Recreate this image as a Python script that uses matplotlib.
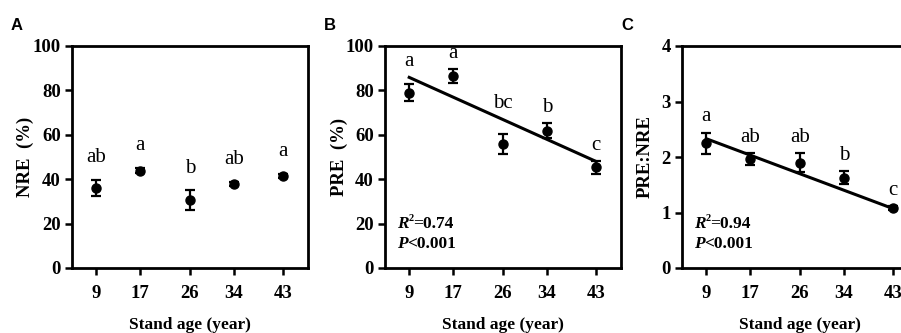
import matplotlib
matplotlib.use("Agg")
import matplotlib.pyplot as plt
import numpy as np

# ---- data ----
stand_age = [9, 17, 26, 34, 43]
age_ticks = ["9", "17", "26", "34", "43"]

nre_mean = [36.0, 43.9, 30.6, 37.9, 41.5]
nre_se = [3.6, 1.2, 4.4, 1.0, 1.0]
nre_letters = ["ab", "a", "b", "ab", "a"]

pre_mean = [79.0, 86.5, 55.9, 61.9, 45.3]
pre_se = [3.7, 3.2, 4.5, 3.5, 3.0]
pre_letters = ["a", "a", "bc", "b", "c"]
pre_fit = (-1.115, 95.9)      # slope, intercept
pre_stats = ("0.74", "0.001")

ratio_mean = [2.25, 1.96, 1.90, 1.63, 1.08]
ratio_se = [0.19, 0.11, 0.17, 0.12, 0.03]
ratio_letters = ["a", "ab", "ab", "b", "c"]
ratio_fit = (-0.0371, 2.664)
ratio_stats = ("0.94", "0.001")

serif = "Liberation Serif"
sans = "Liberation Sans"

fig = plt.figure(figsize=(9.01, 3.33), dpi=100)

W, H = 236 / 901, 222 / 333
bottom = 1 - 268 / 333
lefts = [72 / 901, 385 / 901, 682 / 901]

panels = [
    dict(mean=nre_mean, se=nre_se, letters=nre_letters, ylim=(0, 100), yt=[0, 20, 40, 60, 80, 100],
         ylabel="NRE  (%)", fit=None, stats=None, off=8.0, tag="A", labx=-0.197),
    dict(mean=pre_mean, se=pre_se, letters=pre_letters, ylim=(0, 100), yt=[0, 20, 40, 60, 80, 100],
         ylabel="PRE  (%)", fit=pre_fit, stats=pre_stats, off=5.0, tag="B", labx=-0.195),
    dict(mean=ratio_mean, se=ratio_se, letters=ratio_letters, ylim=(0, 4), yt=[0, 1, 2, 3, 4],
         ylabel="PRE:NRE", fit=ratio_fit, stats=ratio_stats, off=0.2, tag="C", labx=-0.157),
]

for left, p in zip(lefts, panels):
    ax = fig.add_axes([left, bottom, W, H])
    ax.errorbar(stand_age, p["mean"], yerr=p["se"], fmt="o", color="black", ms=6.5,
                elinewidth=1.6, capsize=3.8, capthick=1.6, zorder=3)
    if p["fit"] is not None:
        xs = np.array([stand_age[0], stand_age[-1]], dtype=float)
        ax.plot(xs, p["fit"][0] * xs + p["fit"][1], color="black", lw=2.2, zorder=2)
    for x, m, s, lab in zip(stand_age, p["mean"], p["se"], p["letters"]):
        top = m + s
        if p["fit"] is not None:
            top = max(top, p["fit"][0] * x + p["fit"][1])
        ax.text(x, top + p["off"], lab, ha="center", va="baseline",
                fontsize=15, family=serif)
    ax.set_xlim(4.6, 47.5)
    ax.set_ylim(*p["ylim"])
    ax.set_xticks(stand_age)
    ax.set_xticklabels(age_ticks)
    ax.set_yticks(p["yt"])
    for sp in ax.spines.values():
        sp.set_linewidth(2.0)
    ax.tick_params(axis="both", direction="out", length=5, width=1.8, pad=3)
    for lab in ax.get_xticklabels() + ax.get_yticklabels():
        lab.set_fontfamily(serif)
        lab.set_fontweight("bold")
        lab.set_fontsize(13.5)
    ax.tick_params(axis="x", pad=7)
    ax.set_ylabel(p["ylabel"], fontsize=13.5, fontweight="bold", family=serif,
                  va="center")
    ax.yaxis.set_label_coords(p["labx"], 0.5)
    ax.set_xlabel("Stand age (year)", fontsize=12.5, fontweight="bold", family=serif, labelpad=11)
    if p["stats"] is not None:
        ax.text(0.05, 0.20, "R", transform=ax.transAxes, fontsize=12.5, family=serif,
                fontweight="bold", fontstyle="italic", va="center", ha="left")
        ax.annotate("2", xy=(0.05, 0.20), xycoords="axes fraction", xytext=(8.5, 3.8),
                    textcoords="offset points", fontsize=7.5, family=serif,
                    fontweight="bold", va="center", ha="left")
        ax.annotate("=" + p["stats"][0], xy=(0.05, 0.20), xycoords="axes fraction",
                    xytext=(12, 0), textcoords="offset points", fontsize=12.5, family=serif,
                    fontweight="bold", va="center", ha="left")
        ax.text(0.05, 0.108, "P", transform=ax.transAxes, fontsize=12.5, family=serif,
                fontweight="bold", fontstyle="italic", va="center", ha="left")
        ax.annotate("<" + p["stats"][1], xy=(0.05, 0.108), xycoords="axes fraction",
                    xytext=(7.2, 0), textcoords="offset points", fontsize=12.5, family=serif,
                    fontweight="bold", va="center", ha="left")
    fig.text(left - 55 / 901, 1 - 25 / 333, p["tag"], fontsize=12, fontweight="bold",
             family=sans, ha="center", va="center")

fig.savefig("out.png", dpi=100)
